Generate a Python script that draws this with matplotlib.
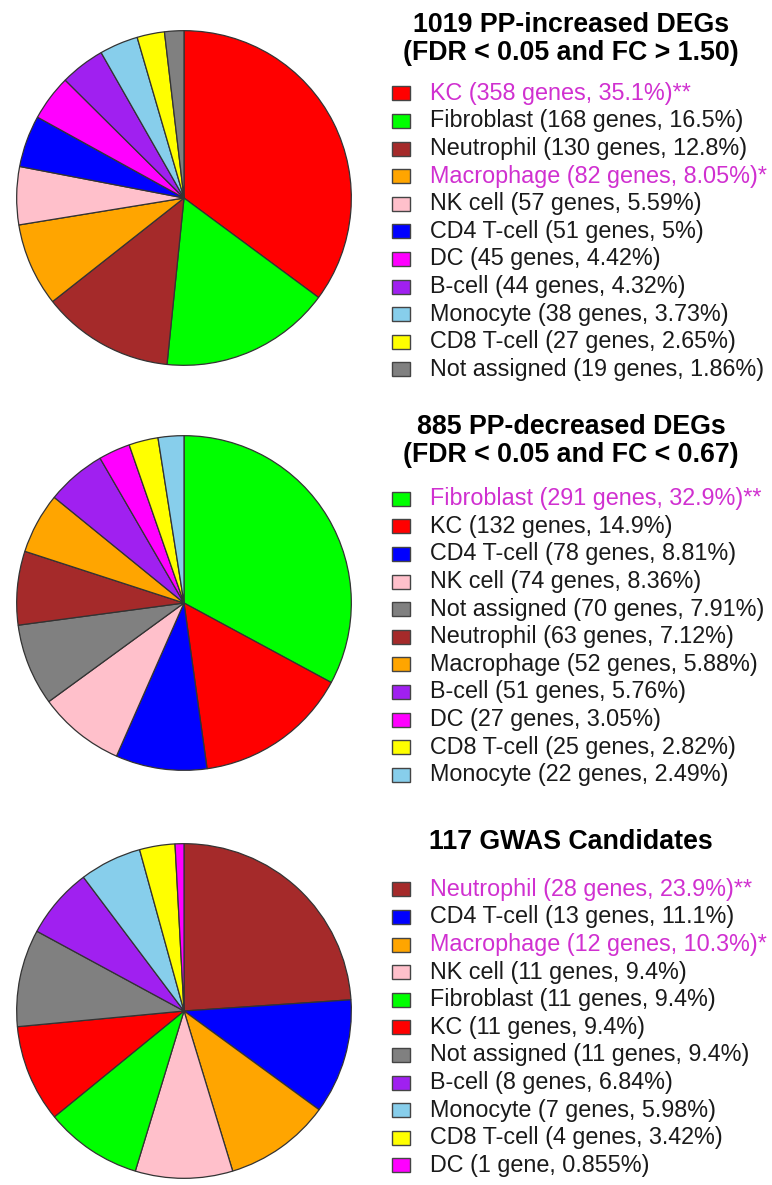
import matplotlib
matplotlib.use("Agg")
import matplotlib.pyplot as plt
from matplotlib.patches import Rectangle

plt.rcParams['font.family'] = ['Liberation Sans', 'DejaVu Sans']

# colours for each cell type
cell_colors = {
    'KC': '#FF0000',
    'Fibroblast': '#00FF00',
    'Neutrophil': '#A52A2A',
    'Macrophage': '#FFA500',
    'NK cell': '#FFC0CB',
    'CD4 T-cell': '#0000FF',
    'DC': '#FF00FF',
    'B-cell': '#A020F0',
    'Monocyte': '#87CEEB',
    'CD8 T-cell': '#FFFF00',
    'Not assigned': '#808080',
}

# panel 1: PP-increased DEGs
up_title = '1019 PP-increased DEGs\n(FDR < 0.05 and FC > 1.50)'
up_cells = ['KC', 'Fibroblast', 'Neutrophil', 'Macrophage', 'NK cell', 'CD4 T-cell',
            'DC', 'B-cell', 'Monocyte', 'CD8 T-cell', 'Not assigned']
up_counts = [358, 168, 130, 82, 57, 51, 45, 44, 38, 27, 19]
up_marks = ['**', '', '', '*', '', '', '', '', '', '', '']

# panel 2: PP-decreased DEGs
down_title = '885 PP-decreased DEGs\n(FDR < 0.05 and FC < 0.67)'
down_cells = ['Fibroblast', 'KC', 'CD4 T-cell', 'NK cell', 'Not assigned', 'Neutrophil',
              'Macrophage', 'B-cell', 'DC', 'CD8 T-cell', 'Monocyte']
down_counts = [291, 132, 78, 74, 70, 63, 52, 51, 27, 25, 22]
down_marks = ['**', '', '', '', '', '', '', '', '', '', '']

# panel 3: GWAS candidates
gwas_title = '117 GWAS Candidates'
gwas_cells = ['Neutrophil', 'CD4 T-cell', 'Macrophage', 'NK cell', 'Fibroblast', 'KC',
              'Not assigned', 'B-cell', 'Monocyte', 'CD8 T-cell', 'DC']
gwas_counts = [28, 13, 12, 11, 11, 11, 11, 8, 7, 4, 1]
gwas_marks = ['**', '', '*', '', '', '', '', '', '', '', '']

W, H = 772, 1185
fig = plt.figure(figsize=(W / 100, H / 100), dpi=100)

highlight = '#D030D0'
R = 169
PIE_X = 184
SQ_X, SQ_W, SQ_H = 392, 18, 14
TXT_X = 430
TITLE_X = 571
STEP = 27.6


def fx(x):
    return x / W


def fy(y):
    return 1 - y / H


def draw_panel(cells, counts, marks, title, pie_y, title_y, first_y):
    ax = fig.add_axes([fx(PIE_X - R), fy(pie_y + R), 2 * R / W, 2 * R / H])
    ax.pie(counts, colors=[cell_colors[c] for c in cells], startangle=90,
           counterclock=False, radius=1,
           wedgeprops=dict(edgecolor='#333333', linewidth=0.9))
    ax.set_xlim(-1.01, 1.01)
    ax.set_ylim(-1.01, 1.01)
    ax.axis('off')

    fig.text(fx(TITLE_X), fy(title_y), title, ha='center', va='center',
             fontsize=19.3, fontweight='bold', linespacing=1.1)

    total = sum(counts)
    for i, (c, n, m) in enumerate(zip(cells, counts, marks)):
        y = first_y + i * STEP
        fig.patches.append(Rectangle((fx(SQ_X), fy(y + SQ_H / 2)), SQ_W / W, SQ_H / H,
                                     transform=fig.transFigure, figure=fig,
                                     facecolor=cell_colors[c], edgecolor='#444444',
                                     linewidth=1.0))
        word = 'gene' if n == 1 else 'genes'
        label = f'{c} ({n} {word}, {100 * n / total:.3g}%){m}'
        fig.text(fx(TXT_X), fy(y), label, ha='left', va='center', fontsize=16.8,
                 color=highlight if m else '#1a1a1a')


draw_panel(up_cells, up_counts, up_marks, up_title, 198, 38.5, 93.3)
draw_panel(down_cells, down_counts, down_marks, down_title, 603, 440.5, 498.7)
draw_panel(gwas_cells, gwas_counts, gwas_marks, gwas_title, 1011, 842, 889.3)

fig.savefig('out.png', dpi=100)
